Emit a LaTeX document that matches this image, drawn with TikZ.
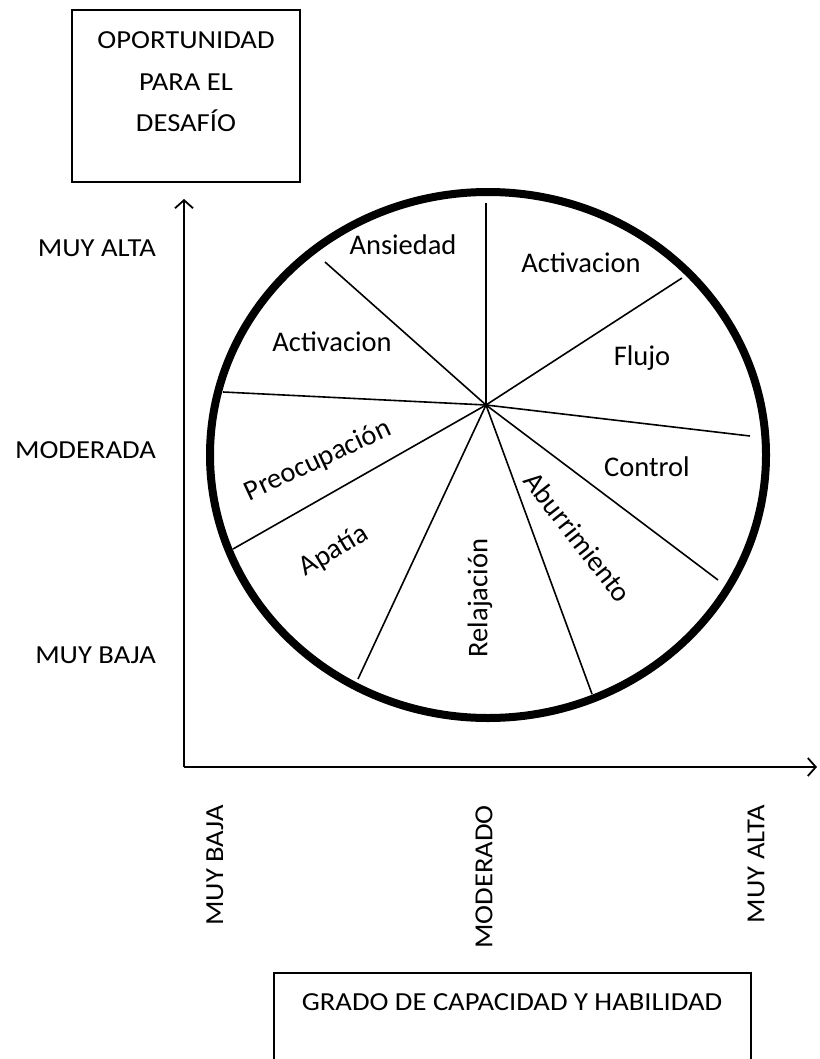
\documentclass[tikz,border=0pt]{standalone}
\usepackage{fontspec}
\setmainfont{Carlito}
\newfontfamily\axisfont{Carlito}[FakeStretch=1.1]
\usetikzlibrary{arrows.meta}

\begin{document}
\begin{tikzpicture}[x=1pt,y=-1pt,
  sector/.style={font=\fontsize{28.5}{34}\selectfont, inner sep=0pt},
  axislabel/.style={font=\axisfont\fontsize{26}{41.5}\selectfont, inner sep=0pt},
  spoke/.style={line width=1.6pt},
  axisline/.style={line width=1.8pt, -{Straight Barb[length=8pt,width=18pt]}}]
\useasboundingbox (0,0) rectangle (819,1059);

\draw[line width=1.5pt] (72,10) rectangle (300,182);
\node[axislabel, align=center] (desafio) at (186,82) {OPORTUNIDAD\\PARA EL\\DESAFÍO};

\coordinate (origin) at (184,767);
\coordinate (ytip) at (184,199);
\coordinate (xtip) at (817,767);
\draw[axisline] (origin) -- (ytip);
\draw[axisline] (origin) -- (xtip);

\node[axislabel, anchor=east] (yalta) at (156,248) {MUY ALTA};
\node[axislabel, anchor=east] (ymoderada) at (156,450) {MODERADA};
\node[axislabel, anchor=east] (ybaja) at (156,655) {MUY BAJA};

\node[axislabel, rotate=90, anchor=east] (xbaja) at (215,805) {MUY BAJA};
\node[axislabel, rotate=90, anchor=east] (xmoderado) at (484,805) {MODERADO};
\node[axislabel, rotate=90, anchor=east] (xalta) at (756,805) {MUY ALTA};

\draw[line width=1.5pt] (274,1059) |- (751,973) -- (751,1059);
\node[axislabel] (habilidad) at (512,1002) {GRADO DE CAPACIDAD Y HABILIDAD};

\draw[line width=8pt] (488,455) ellipse [x radius=278, y radius=263];

\coordinate (hub) at (486,405);
\coordinate (s1) at (486,203);
\coordinate (s2) at (682,278);
\coordinate (s3) at (750,436);
\coordinate (s4) at (718,580);
\coordinate (s5) at (592,694);
\coordinate (s6) at (358,679);
\coordinate (s7) at (233,549);
\coordinate (s8) at (223,392);
\coordinate (s9) at (325,262);
\foreach \s in {s1,s2,s3,s4,s5,s6,s7,s8,s9}
  \draw[spoke] (hub) -- (\s);

\node[sector] (ansiedad) at (403,245) {Ansiedad};
\node[sector] (activacion1) at (581,263) {Activacion};
\node[sector] (activacion2) at (332,342) {Activacion};
\node[sector] (flujo) at (642,358) {Flujo};
\node[sector, rotate=25] (preocupacion) at (318,461) {Preocupación};
\node[sector] (control) at (647,467) {Control};
\node[sector, rotate=31] (apatia) at (334,551) {Apatía};
\node[sector, rotate=90] (relajacion) at (480,598) {Relajación};
\node[sector, rotate=-52] (aburrimiento) at (578,537) {Aburrimiento};
\end{tikzpicture}
\end{document}
